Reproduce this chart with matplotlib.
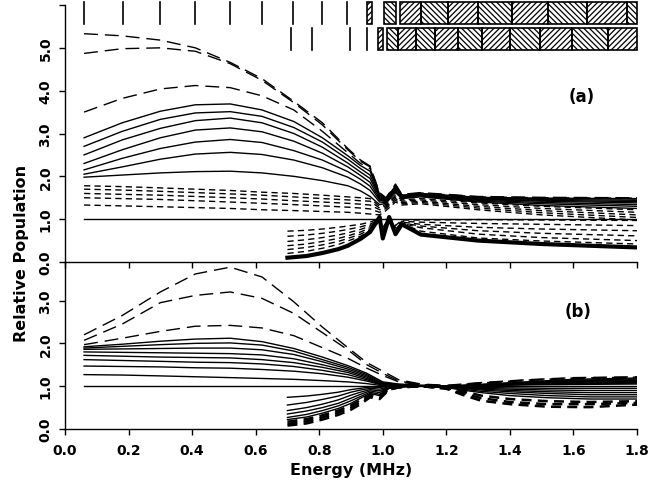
import numpy as np
import matplotlib
matplotlib.use('Agg')
import matplotlib.pyplot as plt
from matplotlib.patches import Rectangle

# ---- energy level markers above panel (a) ----
row1_lines = [0.060, 0.182, 0.299, 0.409, 0.519, 0.619, 0.717, 0.808, 0.887]
row1_boxes = [(0.951, 0.965), (1.003, 1.041), (1.053, 1.120), (1.120, 1.204),
              (1.204, 1.299), (1.299, 1.406), (1.406, 1.519), (1.519, 1.642),
              (1.642, 1.770), (1.770, 1.800)]
row2_lines = [0.710, 0.778, 0.896, 0.949]
row2_boxes = [(0.984, 1.000), (1.013, 1.047), (1.047, 1.104), (1.104, 1.164),
              (1.164, 1.236), (1.236, 1.311), (1.311, 1.399), (1.399, 1.494),
              (1.494, 1.597), (1.597, 1.708), (1.708, 1.800)]

# ---- panel (a) ----
xa = [0.06, 0.18, 0.30, 0.41, 0.52, 0.62, 0.72, 0.81, 0.89, 0.93, 0.96,
      0.99, 1.01, 1.04, 1.06, 1.12, 1.30, 1.50, 1.80]
a_long = [
    [5.33, 5.28, 5.18, 5.00, 4.66, 4.28, 3.75, 3.25, 2.65, 2.38, 2.24, 1.62, 1.50, 1.82, 1.58, 1.62, 1.53, 1.51, 1.50],
    [4.87, 4.98, 5.00, 4.92, 4.63, 4.24, 3.72, 3.20, 2.62, 2.35, 2.22, 1.60, 1.49, 1.80, 1.57, 1.61, 1.52, 1.50, 1.49],
    [3.50, 3.82, 4.04, 4.12, 4.07, 3.88, 3.55, 3.05, 2.55, 2.30, 2.18, 1.58, 1.47, 1.78, 1.56, 1.60, 1.51, 1.49, 1.48],
]
a_solid = [
    [2.90, 3.25, 3.52, 3.67, 3.69, 3.55, 3.28, 2.90, 2.48, 2.25, 2.12, 1.56, 1.46, 1.76, 1.55, 1.59, 1.50, 1.48, 1.47],
    [2.70, 3.05, 3.33, 3.48, 3.51, 3.40, 3.14, 2.80, 2.40, 2.18, 2.03, 1.53, 1.45, 1.74, 1.54, 1.58, 1.49, 1.46, 1.44],
    [2.50, 2.85, 3.12, 3.30, 3.36, 3.25, 3.00, 2.68, 2.31, 2.10, 1.95, 1.50, 1.44, 1.72, 1.53, 1.57, 1.47, 1.44, 1.41],
    [2.30, 2.62, 2.90, 3.08, 3.13, 3.04, 2.82, 2.54, 2.22, 2.02, 1.86, 1.47, 1.42, 1.70, 1.52, 1.56, 1.46, 1.42, 1.38],
    [2.15, 2.42, 2.65, 2.80, 2.86, 2.79, 2.60, 2.38, 2.11, 1.93, 1.77, 1.44, 1.41, 1.68, 1.51, 1.55, 1.44, 1.39, 1.34],
    [2.05, 2.22, 2.40, 2.52, 2.56, 2.51, 2.38, 2.20, 1.98, 1.82, 1.67, 1.40, 1.39, 1.66, 1.50, 1.54, 1.42, 1.36, 1.30],
    [1.98, 2.03, 2.08, 2.11, 2.12, 2.08, 2.00, 1.90, 1.78, 1.66, 1.53, 1.34, 1.37, 1.62, 1.48, 1.52, 1.40, 1.32, 1.25],
]
a_short = [
    [1.78, 1.76, 1.73, 1.70, 1.67, 1.63, 1.60, 1.56, 1.52, 1.50, 1.48, 1.30, 1.34, 1.56, 1.45, 1.48, 1.38, 1.30, 1.22],
    [1.70, 1.68, 1.65, 1.62, 1.59, 1.56, 1.52, 1.48, 1.45, 1.43, 1.42, 1.26, 1.31, 1.52, 1.42, 1.45, 1.34, 1.25, 1.16],
    [1.60, 1.58, 1.56, 1.53, 1.50, 1.47, 1.43, 1.40, 1.37, 1.35, 1.33, 1.22, 1.28, 1.48, 1.39, 1.42, 1.30, 1.20, 1.10],
    [1.50, 1.48, 1.46, 1.43, 1.40, 1.37, 1.34, 1.31, 1.28, 1.26, 1.24, 1.16, 1.25, 1.44, 1.36, 1.39, 1.26, 1.15, 1.04],
    [1.33, 1.31, 1.29, 1.27, 1.25, 1.22, 1.20, 1.18, 1.16, 1.14, 1.12, 1.10, 1.20, 1.40, 1.33, 1.36, 1.22, 1.10, 0.98],
]
flat_x = [0.06, 1.80]
flat_y = [1.0, 1.0]

xa_low = [0.70, 0.76, 0.81, 0.86, 0.89, 0.93, 0.96, 0.99, 1.00, 1.02, 1.04, 1.06, 1.12, 1.30, 1.50, 1.80]
a_low_dash = [
    [0.72, 0.74, 0.77, 0.81, 0.84, 0.88, 0.93, 1.02, 0.80, 1.04, 0.85, 0.98, 0.98, 0.99, 0.98, 0.97],
    [0.60, 0.63, 0.67, 0.72, 0.76, 0.82, 0.88, 1.00, 0.75, 1.02, 0.80, 0.95, 0.93, 0.90, 0.88, 0.85],
    [0.48, 0.52, 0.57, 0.63, 0.68, 0.76, 0.84, 0.98, 0.70, 1.00, 0.76, 0.93, 0.88, 0.81, 0.77, 0.73],
    [0.38, 0.42, 0.48, 0.55, 0.61, 0.70, 0.80, 0.96, 0.66, 0.98, 0.72, 0.91, 0.84, 0.73, 0.67, 0.61],
    [0.29, 0.34, 0.40, 0.48, 0.55, 0.65, 0.76, 0.94, 0.62, 0.96, 0.70, 0.90, 0.80, 0.65, 0.57, 0.50],
    [0.20, 0.25, 0.32, 0.41, 0.49, 0.60, 0.73, 1.02, 0.58, 1.03, 0.68, 0.89, 0.72, 0.56, 0.49, 0.42],
]
a_low_thick = [0.10, 0.14, 0.21, 0.30, 0.38, 0.54, 0.70, 1.05, 0.55, 1.05, 0.65, 0.88, 0.64, 0.50, 0.42, 0.34]

# ---- panel (b) ----
xb = [0.06, 0.18, 0.30, 0.41, 0.52, 0.62, 0.72, 0.81, 0.89, 0.95, 1.00, 1.05,
      1.12, 1.20, 1.30, 1.45, 1.60, 1.80]
b_long = [
    [2.20, 2.65, 3.20, 3.62, 3.78, 3.55, 2.97, 2.38, 1.90, 1.55, 1.35, 1.15, 1.05, 1.02, 1.08, 1.15, 1.20, 1.22],
    [2.07, 2.45, 2.95, 3.12, 3.20, 3.05, 2.70, 2.25, 1.85, 1.50, 1.30, 1.12, 1.04, 1.01, 1.07, 1.14, 1.19, 1.21],
    [1.97, 2.12, 2.28, 2.40, 2.42, 2.36, 2.18, 1.90, 1.65, 1.42, 1.25, 1.10, 1.03, 1.01, 1.06, 1.13, 1.18, 1.20],
]
b_solid = [
    [1.92, 1.98, 2.05, 2.10, 2.12, 2.04, 1.88, 1.68, 1.48, 1.30, 1.10, 1.05, 1.02, 1.00, 1.04, 1.10, 1.16, 1.19],
    [1.89, 1.93, 1.97, 2.00, 2.01, 1.96, 1.82, 1.62, 1.44, 1.27, 1.08, 1.04, 1.02, 1.00, 1.03, 1.09, 1.14, 1.17],
    [1.86, 1.87, 1.88, 1.89, 1.89, 1.85, 1.74, 1.57, 1.40, 1.24, 1.06, 1.03, 1.01, 1.00, 1.03, 1.08, 1.12, 1.15],
    [1.80, 1.79, 1.78, 1.77, 1.76, 1.73, 1.64, 1.50, 1.36, 1.21, 1.05, 1.03, 1.01, 1.00, 1.02, 1.07, 1.11, 1.13],
    [1.72, 1.70, 1.68, 1.67, 1.66, 1.62, 1.55, 1.44, 1.32, 1.18, 1.04, 1.02, 1.01, 1.00, 1.02, 1.06, 1.09, 1.11],
    [1.62, 1.60, 1.58, 1.56, 1.55, 1.52, 1.46, 1.37, 1.27, 1.15, 1.03, 1.02, 1.01, 1.00, 1.01, 1.05, 1.07, 1.09],
    [1.47, 1.46, 1.45, 1.43, 1.42, 1.39, 1.35, 1.29, 1.21, 1.12, 1.02, 1.01, 1.00, 1.00, 1.01, 1.04, 1.06, 1.07],
    [1.27, 1.26, 1.24, 1.22, 1.20, 1.18, 1.16, 1.13, 1.10, 1.06, 1.01, 1.01, 1.00, 1.00, 1.01, 1.03, 1.04, 1.05],
]

xb_low = [0.70, 0.76, 0.81, 0.86, 0.90, 0.93, 0.96, 0.99, 1.02, 1.05, 1.12, 1.20,
          1.25, 1.31, 1.40, 1.52, 1.65, 1.80]
b_low_solid = [
    [0.74, 0.77, 0.81, 0.86, 0.92, 0.95, 0.98, 0.97, 1.00, 1.00, 1.00, 0.99, 0.98, 0.97, 0.96, 0.95, 0.95, 0.95],
    [0.56, 0.62, 0.69, 0.77, 0.86, 0.91, 0.95, 0.93, 0.99, 1.00, 1.00, 0.99, 0.97, 0.95, 0.93, 0.91, 0.90, 0.90],
    [0.43, 0.50, 0.58, 0.68, 0.79, 0.86, 0.92, 0.89, 0.98, 0.99, 1.00, 0.98, 0.96, 0.93, 0.90, 0.87, 0.85, 0.85],
    [0.35, 0.42, 0.50, 0.60, 0.72, 0.81, 0.89, 0.85, 0.97, 0.99, 1.00, 0.98, 0.95, 0.91, 0.87, 0.83, 0.80, 0.80],
    [0.27, 0.34, 0.43, 0.54, 0.66, 0.76, 0.86, 0.81, 0.96, 0.99, 1.00, 0.97, 0.93, 0.88, 0.83, 0.78, 0.75, 0.75],
    [0.22, 0.28, 0.37, 0.48, 0.60, 0.72, 0.83, 0.78, 0.95, 0.98, 1.00, 0.97, 0.91, 0.85, 0.78, 0.73, 0.70, 0.70],
]
b_low_dash = [
    [0.17, 0.23, 0.32, 0.43, 0.55, 0.68, 0.80, 0.75, 0.94, 0.98, 1.00, 0.96, 0.88, 0.78, 0.70, 0.65, 0.63, 0.65],
    [0.12, 0.18, 0.27, 0.38, 0.50, 0.63, 0.77, 0.72, 0.93, 0.97, 1.00, 0.95, 0.84, 0.72, 0.63, 0.58, 0.58, 0.61],
    [0.08, 0.13, 0.22, 0.33, 0.45, 0.58, 0.74, 0.70, 0.92, 0.97, 1.00, 0.94, 0.80, 0.66, 0.58, 0.52, 0.51, 0.57],
]

xticks = [0.0, 0.2, 0.4, 0.6, 0.8, 1.0, 1.2, 1.4, 1.6, 1.8]


def main():
    plt.rcParams['font.family'] = 'DejaVu Sans'
    plt.rcParams['font.weight'] = 'bold'
    plt.rcParams['hatch.linewidth'] = 0.9

    fig = plt.figure(figsize=(6.62, 4.89), dpi=100)
    left, width = 65 / 662, 572 / 662
    ax_a = fig.add_axes([left, 226 / 489, width, 257 / 489])
    ax_b = fig.add_axes([left, 59 / 489, width, 167 / 489])

    solid = dict(color='k', lw=1.0)
    long = dict(color='k', lw=1.0, dashes=(10, 5))
    short = dict(color='k', lw=1.0, dashes=(4.5, 3))

    # panel (a)
    for y in a_long:
        ax_a.plot(xa, y, **long)
    for y in a_solid:
        ax_a.plot(xa, y, **solid)
    for y in a_short:
        ax_a.plot(xa, y, **short)
    ax_a.plot(flat_x, flat_y, **solid)
    for y in a_low_dash:
        ax_a.plot(xa_low, y, **short)
    ax_a.plot(xa_low, a_low_thick, color='k', lw=3.0)

    # level markers
    r1 = (5.56, 6.07)
    r2 = (4.94, 5.46)
    for x in row1_lines:
        ax_a.plot([x, x], r1, color='k', lw=1.2, clip_on=False)
    for x in row2_lines:
        ax_a.plot([x, x], r2, color='k', lw=1.2, clip_on=False)
    for rows, (y0, y1) in ((row1_boxes, r1), (row2_boxes, r2)):
        for i, (x0, x1) in enumerate(rows):
            ax_a.add_patch(Rectangle((x0, y0), x1 - x0, y1 - y0, fill=False,
                                     edgecolor='k', lw=1.2,
                                     hatch='//////' if i % 2 == 0 else '\\\\\\\\\\\\',
                                     clip_on=False))

    # panel (b)
    for y in b_long:
        ax_b.plot(xb, y, **long)
    for y in b_solid:
        ax_b.plot(xb, y, **solid)
    ax_b.plot(flat_x, flat_y, **solid)
    for y in b_low_solid:
        ax_b.plot(xb_low, y, **solid)
    for y in b_low_dash:
        ax_b.plot(xb_low, y, color='k', lw=1.8, dashes=(4, 2.5))

    ax_a.set_ylim(0, 6.0)
    ax_b.set_ylim(0, 3.9)
    for ax in (ax_a, ax_b):
        ax.patch.set_visible(False)
        ax.set_xlim(0, 1.8)
        ax.set_xticks(xticks)
        ax.spines['top'].set_visible(False)
        ax.spines['right'].set_visible(False)
        for s in ('left', 'bottom'):
            ax.spines[s].set_linewidth(1.0)
        ax.tick_params(direction='out', length=4, width=1.0, labelsize=10)
        ax.tick_params(axis='y', pad=5)

    ax_a.tick_params(axis='x', labelbottom=False)
    ax_a.set_yticks([0, 1, 2, 3, 4, 5, 6])
    ax_a.set_yticklabels(['0.0', '1.0', '2.0', '3.0', '4.0', '5.0', ''],
                         rotation=90, va='center')
    ax_b.set_yticks([0, 1, 2, 3])
    ax_b.set_yticklabels(['0.0', '1.0', '2.0', '3.0'], rotation=90, va='center')
    ax_b.set_xticklabels(['%.1f' % t for t in xticks])
    ax_b.tick_params(axis='x', pad=6)

    ax_a.text(1.627, 3.88, '(a)', fontsize=12, ha='center', va='center')
    ax_b.text(1.614, 2.76, '(b)', fontsize=12, ha='center', va='center')

    fig.text(0.033, 0.481, 'Relative Population', rotation=90,
             fontsize=11.5, ha='center', va='center')
    fig.text(0.531, 0.037, 'Energy (MHz)', fontsize=11.5, ha='center', va='center')

    fig.savefig('out.png', dpi=100, facecolor='white')


if __name__ == "__main__":
    main()
